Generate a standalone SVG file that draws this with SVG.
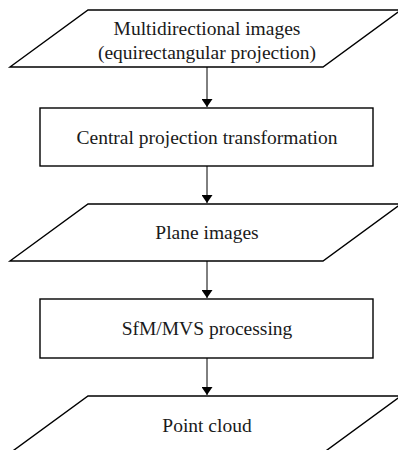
<svg xmlns="http://www.w3.org/2000/svg" width="398" height="450" viewBox="0 0 398 450">
<defs>
<marker id="ah" markerWidth="8" markerHeight="11" refX="8" refY="5.5" orient="auto" markerUnits="userSpaceOnUse">
<path d="M0,0 L8,5.5 L0,11 Z" fill="#000"/>
</marker>
<style>
.s{fill:#fff;stroke:#000;stroke-width:1.4}
.t{font-family:'Liberation Serif','DejaVu Serif','Times New Roman',serif;font-size:19.5px;fill:#1a1a1a;text-anchor:middle}
.c{stroke:#000;stroke-width:1;fill:none}
</style>
</defs>
<rect width="398" height="450" fill="#fff"/>
<g id="n1"><polygon class="s" points="88,10 401,10 323,67 10,67"/>
<text class="t" x="207" y="35">Multidirectional images</text>
<text class="t" x="207" y="59">(equirectangular projection)</text></g>
<g id="n2"><rect class="s" x="40" y="108" width="333" height="58"/>
<text class="t" x="207" y="144">Central projection transformation</text></g>
<g id="n3"><polygon class="s" points="88,204 401,204 323,261 10,261"/>
<text class="t" x="207" y="239">Plane images</text></g>
<g id="n4"><rect class="s" x="40" y="299" width="333" height="59"/>
<text class="t" x="207" y="335">SfM/MVS processing</text></g>
<g id="n5"><polygon class="s" points="88,396 401,396 323,453 10,453"/>
<text class="t" x="207" y="432">Point cloud</text></g>
<g id="connectors">
<line class="c" x1="207" y1="67" x2="207" y2="107" marker-end="url(#ah)"/>
<line class="c" x1="207" y1="166" x2="207" y2="203" marker-end="url(#ah)"/>
<line class="c" x1="207" y1="261" x2="207" y2="298" marker-end="url(#ah)"/>
<line class="c" x1="207" y1="358" x2="207" y2="395" marker-end="url(#ah)"/>
</g>
</svg>
